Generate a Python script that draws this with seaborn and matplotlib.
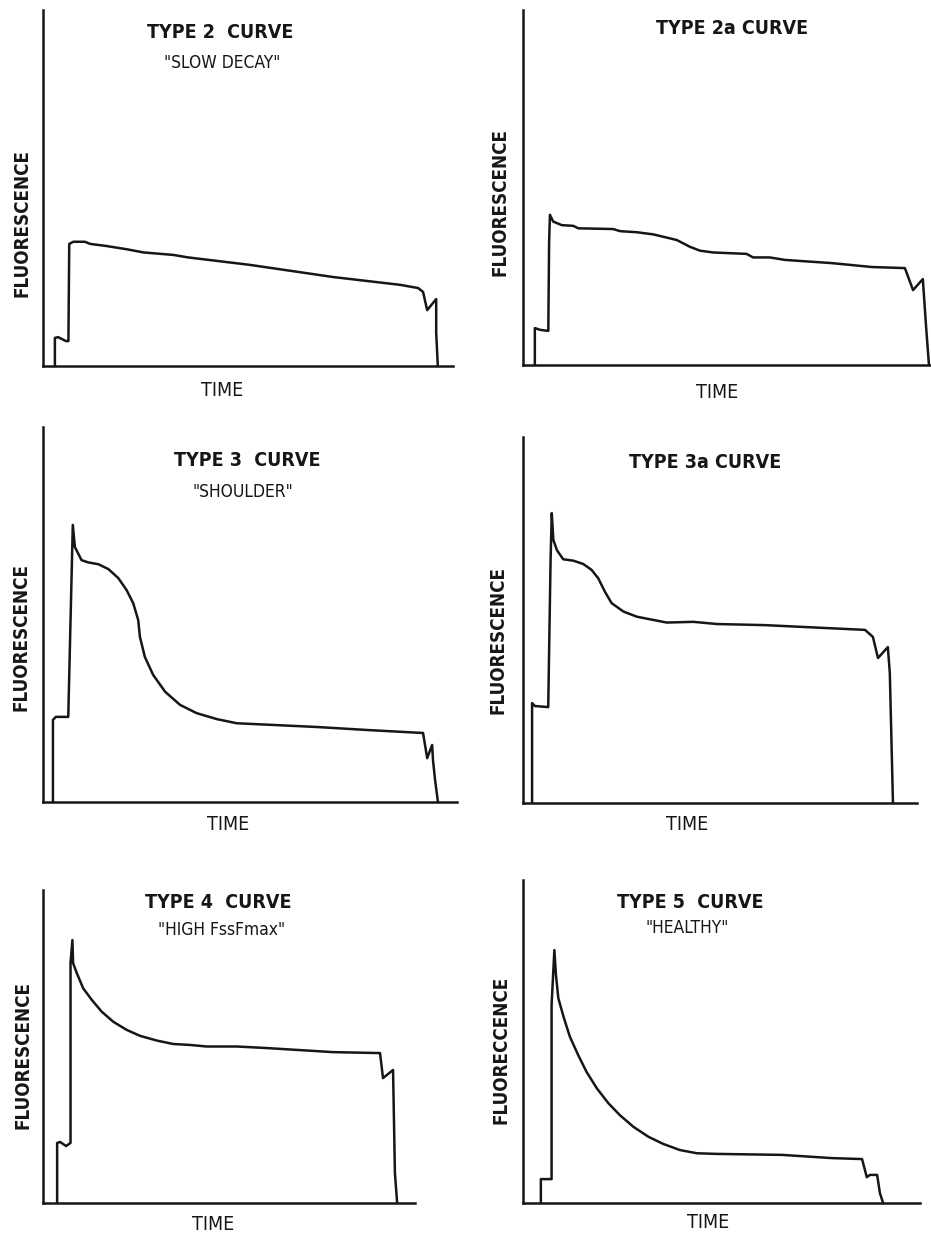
import numpy as np
import pandas as pd
import matplotlib
matplotlib.use("Agg")
import matplotlib.pyplot as plt
import seaborn as sns

sns.set_style("white")
plt.rcParams['font.family'] = ['DejaVu Sans']

# ---------------- data (time and fluorescence in % of axis range) -------------
t2 = [2.9, 2.9, 3.7, 5.6, 6.2, 6.4, 7.4, 10.2, 11.5, 15.5, 20.4, 24.5, 31.8, 35.4, 50.5, 70.7, 87.1, 91.5, 92.7, 93.7, 95.9, 95.9, 96.3]
f2 = [0, 7.9, 8.1, 7.0, 7.0, 34.3, 34.9, 34.9, 34.3, 33.7, 32.8, 31.9, 31.2, 30.5, 28.4, 25.0, 22.8, 21.9, 20.8, 15.7, 18.8, 9.3, 0]

t2a = [2.9, 2.9, 4.2, 6.2, 6.4, 6.6, 7.4, 9.5, 12.3, 13.6, 22.1, 23.8, 27.9, 31.9, 35.2, 37.7, 40.9, 43.4, 46.6, 54.8, 56.4, 60.5, 64.2, 75.7, 85.5, 93.6, 95.6, 98.0, 98.8, 99.5]
f2a = [0, 10.4, 9.9, 9.6, 34.7, 42.3, 40.4, 39.4, 39.2, 38.5, 38.3, 37.7, 37.4, 36.8, 35.9, 35.2, 33.3, 32.2, 31.7, 31.3, 30.3, 30.3, 29.6, 28.7, 27.6, 27.3, 21.1, 24.2, 10.7, 0]

t3 = [2.4, 2.4, 3.1, 6.1, 6.9, 7.2, 7.7, 9.3, 10.9, 13.4, 15.8, 18.2, 20.2, 21.8, 23.0, 23.4, 24.6, 26.6, 29.5, 33.1, 37.1, 42.0, 46.8, 66.2, 78.3, 91.8, 92.8, 94.0, 94.2, 94.7, 95.4]
f3 = [0, 21.9, 22.7, 22.7, 60.0, 73.9, 68.0, 64.5, 63.9, 63.4, 62.1, 59.7, 56.5, 53.0, 48.5, 44.1, 38.7, 33.9, 29.4, 25.9, 23.7, 22.1, 21.0, 20.0, 19.2, 18.4, 11.7, 15.2, 11.2, 5.9, 0]

t3a = [2.3, 2.3, 3.0, 6.4, 7.0, 7.3, 7.7, 8.6, 10.2, 12.8, 15.3, 17.4, 19.1, 20.8, 22.5, 25.5, 28.9, 32.2, 36.5, 43.2, 49.2, 61.4, 86.8, 88.8, 90.1, 92.6, 93.1, 93.9]
f3a = [0, 27.3, 26.5, 26.2, 66.4, 79.2, 71.9, 69.1, 66.6, 66.2, 65.3, 63.7, 61.4, 57.7, 54.6, 52.3, 50.9, 50.2, 49.3, 49.5, 48.9, 48.6, 47.3, 45.4, 39.6, 42.6, 35.5, 0]

t4 = [3.8, 3.8, 4.6, 6.2, 7.4, 7.4, 7.9, 8.1, 9.1, 10.8, 13.1, 15.8, 18.9, 22.5, 26.1, 30.6, 35.0, 39.5, 44.0, 52.1, 60.2, 78.0, 90.6, 91.4, 94.1, 94.6, 95.2]
f4 = [0, 19.2, 19.5, 18.2, 19.2, 76.6, 84.0, 76.6, 73.4, 68.6, 64.9, 61.1, 57.9, 55.3, 53.4, 51.9, 50.8, 50.5, 50.0, 50.0, 49.5, 48.2, 47.9, 39.9, 42.5, 9.6, 0]

t5 = [4.5, 4.5, 7.2, 7.2, 7.9, 8.3, 8.9, 10.2, 11.8, 13.9, 16.0, 18.6, 21.5, 24.4, 27.8, 31.6, 35.3, 39.5, 43.8, 48.8, 65.2, 77.8, 85.4, 86.6, 87.4, 89.2, 89.9, 90.7]
f5 = [0, 7.4, 7.4, 61.3, 78.3, 70.6, 63.4, 57.7, 51.5, 45.8, 40.6, 35.5, 30.9, 27.2, 23.6, 20.5, 18.3, 16.4, 15.4, 15.2, 14.9, 13.9, 13.6, 8.0, 8.7, 8.7, 3.1, 0]

titles = ["TYPE 2  CURVE", "TYPE 2a CURVE", "TYPE 3  CURVE", "TYPE 3a CURVE", "TYPE 4  CURVE", "TYPE 5  CURVE"]
subtitles = ['"SLOW DECAY"', "", '"SHOULDER"', "", '"HIGH FssFmax"', '"HEALTHY"']
ylabels = ["FLUORESCENCE", "FLUORESCENCE", "FLUORESCENCE", "FLUORESCENCE", "FLUORESCENCE", "FLUORECCENCE"]
xlabel = "TIME"
series = [(t2, f2), (t2a, f2a), (t3, f3), (t3a, f3a), (t4, f4), (t5, f5)]

# ---------------- layout (pixels: left, right, bottom, top) -------------------
W, H = 931, 1236
boxes = [(43, 453, 366, 10), (523, 931, 365, 10),
         (43, 457, 802, 427), (523, 917, 803, 437),
         (43, 415, 1203, 890), (523, 920, 1203, 880)]
title_pos = [(220, 32), (732, 29), (247, 460), (705, 463), (218, 902), (690, 903)]
sub_pos = [(222, 63), None, (243, 492), None, (222, 930), (687, 928)]
time_pos = [(222, 390), (717, 393), (228, 825), (687, 825), (213, 1225), (708, 1222)]
ylab_pos = [(22, 223), (500, 202), (21, 637), (498, 640), (23, 1055), (501, 1050)]

ink = "#161616"
fig = plt.figure(figsize=(W / 100, H / 100), dpi=100)

def fx(px):
    return px / W

def fy(py):
    return 1 - py / H

for i, (t, f) in enumerate(series):
    L, R, B, T = boxes[i]
    ax = fig.add_axes([fx(L), fy(B), (R - L) / W, (B - T) / H])
    df = pd.DataFrame({"time": t, "fluor": f})
    sns.lineplot(data=df, x="time", y="fluor", sort=False, estimator=None,
                 color=ink, linewidth=1.8, ax=ax, clip_on=False)
    ax.set_xlim(0, 100)
    ax.set_ylim(0, 100)
    ax.set_xticks([])
    ax.set_yticks([])
    ax.set_xlabel("")
    ax.set_ylabel("")
    sns.despine(ax=ax)
    for s in ("left", "bottom"):
        ax.spines[s].set_linewidth(1.8)
        ax.spines[s].set_color(ink)
    ax.patch.set_alpha(0)

    fig.text(fx(title_pos[i][0]), fy(title_pos[i][1]), titles[i], ha="center", va="center",
             fontsize=14, fontweight="bold", fontstretch="condensed", color=ink)
    if sub_pos[i] is not None:
        fig.text(fx(sub_pos[i][0]), fy(sub_pos[i][1]), subtitles[i], ha="center", va="center",
                 fontsize=12.5, fontstretch="condensed", color=ink)
    fig.text(fx(time_pos[i][0]), fy(time_pos[i][1]), xlabel, ha="center", va="center",
             fontsize=14, fontstretch="condensed", color=ink)
    fig.text(fx(ylab_pos[i][0]), fy(ylab_pos[i][1]), ylabels[i], ha="center", va="center",
             rotation=90, fontsize=13.5, fontweight="bold", fontstretch="condensed", color=ink)

fig.savefig("out.png", dpi=100)
